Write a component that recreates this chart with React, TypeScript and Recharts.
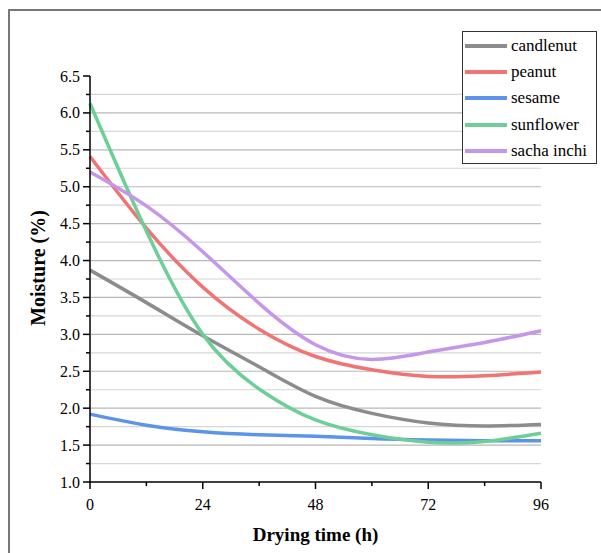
import React from 'react';
import { LineChart, Line, XAxis, YAxis, CartesianGrid } from 'recharts';

const hours = [0, 12, 24, 36, 48, 60, 72, 84, 96];
const candlenut = [3.87, 3.43, 2.98, 2.56, 2.16, 1.93, 1.8, 1.76, 1.78];
const peanut = [5.41, 4.44, 3.64, 3.07, 2.7, 2.52, 2.43, 2.44, 2.49];
const sesame = [1.92, 1.77, 1.68, 1.64, 1.62, 1.59, 1.57, 1.56, 1.56];
const sunflower = [6.13, 4.4, 3.0, 2.26, 1.84, 1.64, 1.54, 1.55, 1.66];
const sachaInchi = [5.2, 4.74, 4.12, 3.42, 2.86, 2.66, 2.76, 2.89, 3.05];

const xMajor = [0, 24, 48, 72, 96];
const xMinor = [12, 36, 60, 84];
const yMajor = [1.0, 1.5, 2.0, 2.5, 3.0, 3.5, 4.0, 4.5, 5.0, 5.5, 6.0, 6.5];
const yMinor = [1.25, 1.75, 2.25, 2.75, 3.25, 3.75, 4.25, 4.75, 5.25, 5.75, 6.25];

const series = [
  { key: 'candlenut', name: 'candlenut', color: '#8c8c8c', values: candlenut },
  { key: 'peanut', name: 'peanut', color: '#f07474', values: peanut },
  { key: 'sesame', name: 'sesame', color: '#5b94ea', values: sesame },
  { key: 'sunflower', name: 'sunflower', color: '#6dcf97', values: sunflower },
  { key: 'sachaInchi', name: 'sacha inchi', color: '#c597e8', values: sachaInchi },
];

const data = hours.map((h, i) => {
  const row: Record<string, number> = { hour: h };
  series.forEach((s) => (row[s.key] = s.values[i]));
  return row;
});

const FONT = '"Liberation Serif", "Times New Roman", serif';

function YTick(props: any) {
  const { x, y, payload } = props;
  const major = yMajor.includes(payload.value);
  return (
    <g>
      <line x1={x - (major ? 7 : 4)} x2={x} y1={y} y2={y} stroke="#000" strokeWidth={1.5} />
      {major && (
        <text x={x - 10} y={y + 5.5} textAnchor="end" fontSize={16} fontFamily={FONT} fill="#000">
          {payload.value.toFixed(1)}
        </text>
      )}
    </g>
  );
}

function XTick(props: any) {
  const { x, y, payload } = props;
  const major = xMajor.includes(payload.value);
  return (
    <g>
      <line x1={x} x2={x} y1={y} y2={y + (major ? 7 : 4)} stroke="#000" strokeWidth={1.5} />
      {major && (
        <text x={x} y={y + 28} textAnchor="middle" fontSize={16} fontFamily={FONT} fill="#000">
          {payload.value}
        </text>
      )}
    </g>
  );
}

function LegendBox() {
  return (
    <div
      style={{
        position: 'absolute',
        left: 462,
        top: 31,
        width: 133,
        height: 130,
        border: '1px solid #333',
        background: '#fff',
        paddingTop: 1,
      }}
    >
      {series.map((s) => (
        <div key={s.key} style={{ display: 'flex', alignItems: 'center', height: 26.2 }}>
          <div style={{ width: 42, height: 4, background: s.color, marginLeft: 2, marginRight: 4 }} />
          <span style={{ fontFamily: FONT, fontSize: 17, color: '#000', lineHeight: '20px' }}>{s.name}</span>
        </div>
      ))}
    </div>
  );
}

export default function App() {
  return (
    <div style={{ position: 'absolute', left: 0, top: 0, width: 601, height: 553, background: '#fff' }}>
      <div
        style={{
          position: 'absolute',
          left: 8,
          top: 9,
          right: 0,
          bottom: 0,
          borderTop: '2px solid #777',
          borderLeft: '2px solid #777',
        }}
      />
      <LineChart
        width={601}
        height={553}
        data={data}
        margin={{ top: 76, right: 60, left: 0, bottom: 0 }}
        style={{ position: 'absolute', left: 0, top: 0 }}
      >
        <CartesianGrid vertical={false} stroke="#d6d6d6" strokeWidth={1.2} horizontalValues={yMinor} />
        <CartesianGrid
          vertical={false}
          stroke="#b8b8b8"
          strokeWidth={1.2}
          horizontalValues={yMajor.filter((v) => v > 1 && v < 6.5)}
        />
        <XAxis
          dataKey="hour"
          type="number"
          domain={[0, 96]}
          ticks={[...xMajor, ...xMinor].sort((a, b) => a - b)}
          interval={0}
          height={71}
          tickSize={0}
          tickMargin={0}
          tickLine={false}
          tick={<XTick />}
          axisLine={{ stroke: '#000', strokeWidth: 1.5 }}
          label={{
            content: (p: any) => {
              const vb = p.viewBox;
              return (
                <text
                  x={vb.x + vb.width / 2}
                  y={vb.y + 59}
                  textAnchor="middle"
                  fontSize={19}
                  fontWeight="bold"
                  fontFamily={FONT}
                  fill="#000"
                >
                  Drying time (h)
                </text>
              );
            },
          }}
        />
        <YAxis
          type="number"
          domain={[1, 6.5]}
          ticks={[...yMajor, ...yMinor].sort((a, b) => a - b)}
          interval={0}
          width={90}
          tickSize={0}
          tickMargin={0}
          tickLine={false}
          tick={<YTick />}
          axisLine={{ stroke: '#000', strokeWidth: 1.5 }}
          label={{
            content: (p: any) => {
              const vb = p.viewBox;
              const cx = 38;
              const cy = vb.y + vb.height / 2 - 11;
              return (
                <text
                  x={cx}
                  y={cy}
                  transform={`rotate(-90 ${cx} ${cy})`}
                  textAnchor="middle"
                  dominantBaseline="central"
                  fontSize={20}
                  fontWeight="bold"
                  fontFamily={FONT}
                  fill="#000"
                >
                  Moisture (%)
                </text>
              );
            },
          }}
        />
        {series.map((s) => (
          <Line
            key={s.key}
            type="natural"
            dataKey={s.key}
            name={s.name}
            stroke={s.color}
            strokeWidth={3.5}
            dot={false}
            activeDot={false}
            isAnimationActive={false}
          />
        ))}
      </LineChart>
      <LegendBox />
    </div>
  );
}
